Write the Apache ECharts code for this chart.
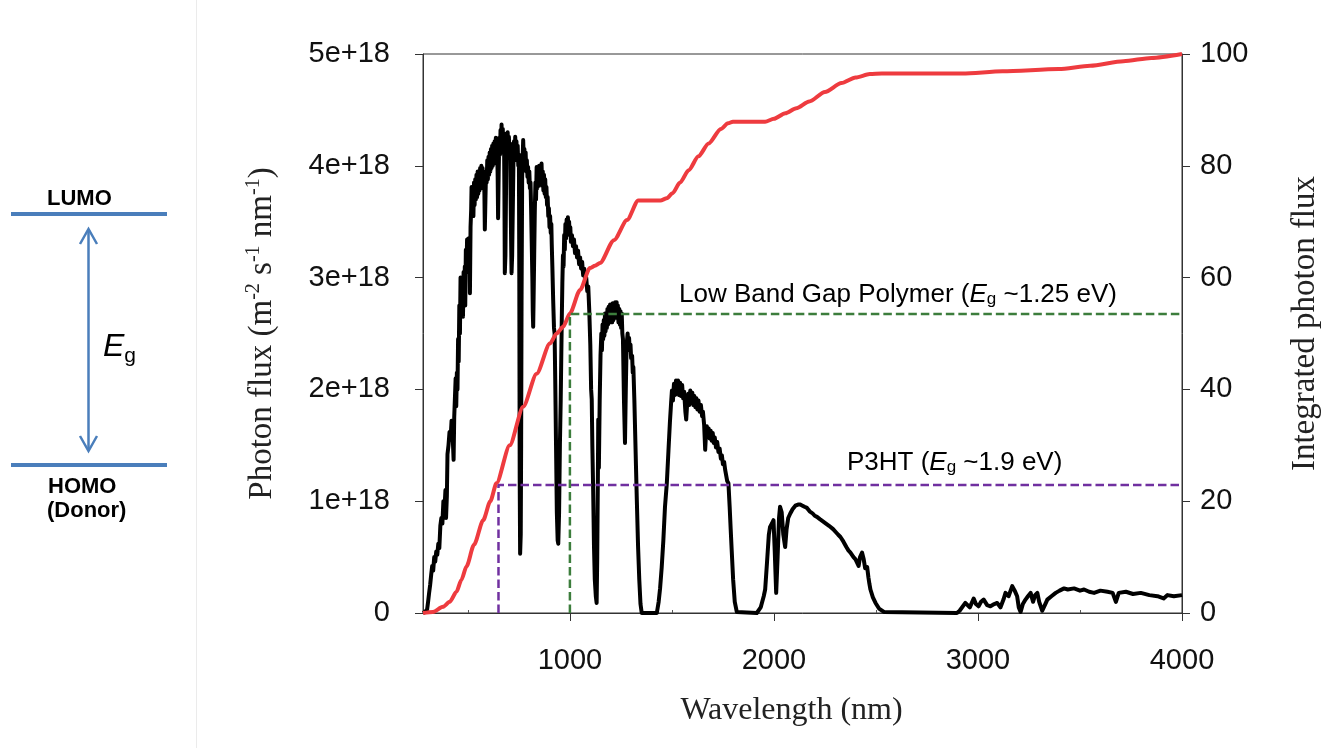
<!DOCTYPE html>
<html>
<head>
<meta charset="utf-8">
<script src="https://cdn.jsdelivr.net/npm/echarts@6/dist/echarts.min.js"></script>
<style>
html,body{margin:0;padding:0;background:#ffffff;}
#chart{width:1322px;height:748px;}
</style>
</head>
<body>
<div id="chart"></div>
<script>
// ---------- data ----------
const xTickValues = [1000, 2000, 3000, 4000];
const xMinorTickValues = [500, 1500, 2500, 3500];

const spectrumWavelength = [
280,290,300,305,310,315,320,325,330,335,340,345,350,355,360,365,370,375,380,385,390,393,397,400,405,410,415,420,425,430,433,438,
440,443,446,449,452,455,458,461,464,467,470,473,476,479,482,485,487,490,493,496,499,502,505,508,510,513,516,518,521,524,527,530,533,536,539,542,545,548,551,554,557,560,563,566,569,572,575,578,581,583,586,589,592,595,598,601,604,607,610,613,616,619,622,625,628,631,634,637,640,643,646,648,651,654,657,660,663,665,668,671,674,677,679,681,684,687,689,692,695,698,701,704,707,709,712,714,717,720,723,726,729,732,735,738,741,744,747,750,752,754,756,759,761,763,766,769,771,774,777,780,783,786,789,792,795,798,801,804,807,810,813,816,818,820,822,825,828,831,834,837,840,843,846,849,852,855,858,861,864,867,870,873,876,879,882,885,888,891,894,897,900,903,906,909,911,914,
918,922,925,928,932,936,940,943,947,951,955,
960,963,966,969,972,975,978,981,984,987,990,993,996,999,1002,1005,1010,1015,1020,1025,1030,1035,1040,1045,1050,1055,1060,1065,1070,1075,1080,1085,1090,
1095,1100,1104,1107,1110,1114,1118,1122,1127,1131,1134,1137,1139,1142,1146,
1150,1154,1157,1160,1163,1166,1169,1172,1175,1178,1181,1184,1187,1190,1193,1197,1200,1204,1207,1210,1213,1216,1219,1222,1225,1229,1232,1235,1238,1242,1245,1248,1251,1254,1257,1260,
1265,1270,1274,1278,1283,1286,1290,1293,1297,1300,1305,1308,1311,1316,1320,1324,1328,1334,1340,1346,1352,1426,1435,1442,1450,1458,1466,1475,1483,1490,1496,
1500,1505,1510,1515,1520,1525,1530,1535,1540,1545,1550,1555,1560,1566,1570,1574,1580,1585,1590,1595,1600,1605,1610,1615,1620,1625,1630,1636,1642,1648,1652,1658,1663,1667,1671,1676,1680,1685,1690,1695,1700,1705,1710,1716,1722,1728,1734,1740,1745,1750,1756,1761,1766,1771,1777,1783,1788,1793,1800,1808,1818,
1916,1935,1950,1957,1966,1975,1981,1990,1998,2004,2011,2018,2025,2030,2038,2046,2055,2062,2070,2080,2092,2105,2118,2129,2140,2150,2162,2175,2190,2200,2211,2225,2240,2255,2270,2277,2290,2305,2315,2326,2340,2355,2365,2375,2390,2400,2408,2415,2422,2432,2440,2447,2457,2463,2468,2473,2485,2498,2515,2539,
2897,2910,2938,2960,2979,2990,3003,3015,3028,3045,3061,3080,3094,3110,3125,3135,3150,3168,3180,3192,3200,3209,3220,3233,3245,3258,3270,3280,3291,3300,3315,3330,3340,3360,3381,3400,3422,3440,3471,3500,3520,3545,3569,3600,3635,3660,3676,3690,3725,3760,3798,3840,3880,3910,3929,3960,4000
];
// photon flux in units of 1e18 m^-2 s^-1 nm^-1
const spectrumFlux = [
0,0.01,0.03,0.10,0.18,0.25,0.34,0.42,0.38,0.50,0.46,0.55,0.52,0.62,0.58,0.78,0.85,0.80,1.00,0.92,1.10,0.85,1.05,1.42,1.50,1.62,1.55,1.72,1.60,1.37,1.75,2.00,
2.10,1.85,2.15,2.00,2.45,2.25,2.75,2.50,3.00,2.70,2.95,2.75,2.65,3.05,2.85,3.10,2.75,3.25,3.05,3.34,3.10,3.35,3.15,3.30,2.86,3.45,3.60,3.81,3.55,3.75,3.55,3.85,3.65,3.88,3.70,3.92,3.72,3.95,3.75,3.93,3.78,3.98,3.80,4.00,3.82,3.98,3.80,3.95,3.75,3.43,3.70,3.95,3.85,4.05,3.88,4.08,3.92,4.12,3.95,4.15,3.98,4.18,4.00,4.20,4.02,4.22,4.05,4.25,4.08,4.22,3.90,3.53,3.95,4.25,4.10,4.32,4.15,4.37,4.15,4.33,4.12,4.28,3.80,3.04,3.20,3.80,4.29,4.10,4.30,4.10,4.26,4.08,4.20,3.80,3.30,3.04,3.20,3.60,4.00,4.22,4.05,4.26,4.08,4.22,4.05,4.18,4.00,4.10,3.00,1.20,0.53,0.70,1.50,2.80,3.90,4.10,4.23,4.05,4.15,3.98,4.12,3.95,4.05,3.90,3.99,3.85,3.95,3.80,3.85,3.60,3.30,3.00,2.70,2.56,2.80,3.20,3.60,3.85,3.70,3.99,3.80,3.98,3.82,4.00,3.84,3.98,3.85,4.02,3.82,3.95,3.78,3.92,3.75,3.88,3.72,3.81,3.65,3.72,3.55,3.62,3.45,3.55,3.40,3.48,3.30,3.10,
2.80,2.55,2.50,2.10,1.50,0.90,0.65,0.62,0.90,1.50,1.91,
2.60,2.95,3.20,3.10,3.38,3.25,3.48,3.35,3.52,3.40,3.54,3.45,3.50,3.38,3.45,3.32,3.38,3.28,3.34,3.22,3.28,3.18,3.24,3.12,3.18,3.08,3.14,3.02,3.08,2.96,3.00,2.88,2.92,
2.70,2.40,2.00,1.91,1.50,1.10,0.60,0.30,0.15,0.09,0.50,1.20,1.73,1.30,1.90,
2.30,2.50,2.35,2.58,2.45,2.62,2.48,2.68,2.52,2.66,2.55,2.72,2.58,2.74,2.60,2.76,2.62,2.74,2.60,2.77,2.62,2.76,2.64,2.78,2.65,2.78,2.64,2.75,2.60,2.72,2.58,2.70,2.55,2.68,2.50,2.45,
1.90,1.52,2.00,2.40,2.50,2.38,2.46,2.35,2.40,2.28,2.30,2.15,2.20,1.90,1.60,1.30,1.01,0.60,0.30,0.08,0,0,0.10,0.22,0.41,0.65,0.95,1.16,1.45,1.70,1.88,
1.99,1.90,2.05,1.95,2.08,1.96,2.08,1.95,2.06,1.94,2.04,1.92,1.98,1.80,1.73,1.85,1.96,1.86,1.99,1.88,1.97,1.86,1.94,1.84,1.92,1.82,1.90,1.80,1.86,1.76,1.80,1.68,1.46,1.60,1.67,1.58,1.65,1.56,1.63,1.54,1.61,1.52,1.57,1.48,1.53,1.44,1.47,1.38,1.41,1.33,1.35,1.28,1.28,1.18,1.16,0.95,0.75,0.56,0.30,0.10,0.01,
0,0.05,0.15,0.21,0.45,0.70,0.77,0.80,0.83,0.55,0.18,0.50,0.85,0.95,0.90,0.70,0.59,0.75,0.85,0.89,0.93,0.96,0.97,0.97,0.96,0.95,0.94,0.91,0.89,0.87,0.86,0.84,0.82,0.80,0.78,0.77,0.75,0.72,0.70,0.68,0.64,0.59,0.56,0.54,0.50,0.48,0.47,0.42,0.50,0.54,0.48,0.40,0.41,0.32,0.26,0.21,0.14,0.09,0.04,0.01,
0,0.02,0.09,0.05,0.13,0.08,0.06,0.10,0.12,0.07,0.06,0.08,0.09,0.05,0.12,0.18,0.15,0.24,0.20,0.15,0.05,0.01,0.08,0.12,0.15,0.18,0.10,0.16,0.18,0.10,0.02,0.08,0.12,0.15,0.18,0.20,0.22,0.21,0.22,0.20,0.21,0.19,0.18,0.20,0.19,0.18,0.10,0.18,0.19,0.17,0.18,0.16,0.15,0.13,0.16,0.15,0.16
];

const integratedWavelength = [280,329,378,411,444,468,493,530,575,610,640,705,771,837,902,935,967,1000,1050,1098,1123,1147,1216,1280,1335,1444,1475,1503,1540,1582,1630,1680,1740,1775,1799,1957,2000,2056,2110,2173,2250,2331,2400,2470,2529,2924,3121,3396,3550,3713,3850,4000];
const integratedFlux = [0,0.2,1.1,2.0,3.8,5.9,8.3,12.2,16.6,20.0,23.2,30.0,36.9,42.8,48.2,50.0,51.2,53.6,57.8,61.7,62.1,62.6,66.7,70.3,73.8,73.8,74.2,75.1,77.0,79.2,81.7,84.0,86.6,87.6,87.9,87.9,88.4,89.4,90.3,91.5,93.2,94.8,95.8,96.4,96.5,96.5,96.9,97.3,97.9,98.7,99.3,100];

// band-gap cut-off guides (wavelength, integrated photon flux)
const p3htGuideX = [650, 650, 4000];
const p3htGuideY = [0, 22.9, 22.9];
const lbgGuideX = [1000, 1000, 4000];
const lbgGuideY = [0, 53.5, 53.5];

const leftTickLabels = ['0', '1e+18', '2e+18', '3e+18', '4e+18', '5e+18'];

// ---------- build ----------
const zip = (a, b) => a.map((v, i) => [v, b[i]]);

const SANS = '"Liberation Sans", Arial, sans-serif';
const SERIF = '"Liberation Serif", "Times New Roman", serif';
const BLUE = '#4A7EBB';

const chart = echarts.init(document.getElementById('chart'), null, {renderer: 'canvas'});

const option = {
  backgroundColor: '#ffffff',
  animation: false,
  grid: {left: 423, right: 140, top: 54, bottom: 135, containLabel: false, outerBoundsMode: 'none',
    show: true, borderColor: '#333', borderWidth: 1, backgroundColor: 'transparent'},
  xAxis: [{
    type: 'value', min: 280, max: 4000,
    name: 'Wavelength (nm)', nameLocation: 'middle', nameGap: 82,
    nameTextStyle: {fontFamily: SERIF, fontSize: 32, color: '#222', padding: [0, 22, 0, 0]},
    axisLine: {show: true, lineStyle: {color: '#333', width: 1}},
    axisTick: {show: true, customValues: xTickValues, length: 8, lineStyle: {color: '#333'}},
    axisLabel: {customValues: xTickValues, fontFamily: SANS, fontSize: 29, color: '#111', margin: 33,
      formatter: (v) => String(v)},
    splitLine: {show: false}
  }, {
    type: 'value', min: 280, max: 4000, position: 'bottom', gridIndex: 0,
    axisLine: {show: false},
    axisTick: {show: true, inside: true, customValues: xMinorTickValues, length: 3, lineStyle: {color: '#555'}},
    axisLabel: {show: false},
    splitLine: {show: false}
  }],
  yAxis: [{
    type: 'value', min: 0, max: 5, interval: 1, position: 'left',
    name: 'Photon flux (m{sup|-2} s{sup|-1} nm{sup|-1})',
    nameLocation: 'middle', nameRotate: 90, nameGap: 143,
    nameTextStyle: {fontFamily: SERIF, fontSize: 33, color: '#222',
      rich: {sup: {fontFamily: SERIF, fontSize: 20, color: '#222', verticalAlign: 'top', lineHeight: 36}}},
    axisLine: {show: true, lineStyle: {color: '#333', width: 1}},
    axisTick: {show: true, length: 8, lineStyle: {color: '#333'}},
    axisLabel: {fontFamily: SANS, fontSize: 29, color: '#111', margin: 33,
      formatter: (v) => leftTickLabels[Math.round(v)]},
    splitLine: {show: false}
  }, {
    type: 'value', min: 0, max: 100, interval: 20, position: 'right',
    name: 'Integrated photon flux',
    nameLocation: 'middle', nameRotate: 90, nameGap: 107,
    nameTextStyle: {fontFamily: SERIF, fontSize: 33, color: '#222', padding: [0, 0, 0, 20]},
    axisLine: {show: true, lineStyle: {color: '#333', width: 1}},
    axisTick: {show: true, length: 8, lineStyle: {color: '#333'}},
    axisLabel: {fontFamily: SANS, fontSize: 29, color: '#111', margin: 18},
    splitLine: {show: false}
  }],
  series: [{
    name: 'Photon flux', type: 'line', xAxisIndex: 0, yAxisIndex: 0,
    data: zip(spectrumWavelength, spectrumFlux),
    showSymbol: false, symbol: 'none',
    lineStyle: {color: '#000', width: 4, join: 'round'},
    z: 2
  }, {
    name: 'Integrated photon flux', type: 'line', xAxisIndex: 0, yAxisIndex: 1,
    data: zip(integratedWavelength, integratedFlux),
    showSymbol: false, symbol: 'none', smooth: 0.25, smoothMonotone: 'x',
    lineStyle: {color: '#EE3B3F', width: 4},
    z: 3
  }, {
    name: 'P3HT', type: 'line', xAxisIndex: 0, yAxisIndex: 1,
    data: zip(p3htGuideX, p3htGuideY),
    showSymbol: false, symbol: 'none',
    lineStyle: {color: '#7030A0', width: 2.5, type: [8.5, 4]},
    z: 4
  }, {
    name: 'Low band gap polymer', type: 'line', xAxisIndex: 0, yAxisIndex: 1,
    data: zip(lbgGuideX, lbgGuideY),
    showSymbol: false, symbol: 'none',
    lineStyle: {color: '#3C7D3C', width: 2.5, type: [8.5, 4]},
    z: 4
  }],
  graphic: [
    // separator
    {type: 'line', shape: {x1: 196.5, y1: 0, x2: 196.5, y2: 748}, style: {stroke: '#ebebeb', lineWidth: 1}, z: 1},
    // energy level diagram
    {type: 'line', shape: {x1: 11, y1: 214, x2: 167, y2: 214}, style: {stroke: BLUE, lineWidth: 4}},
    {type: 'line', shape: {x1: 11, y1: 465, x2: 167, y2: 465}, style: {stroke: BLUE, lineWidth: 4}},
    {type: 'line', shape: {x1: 88.5, y1: 229, x2: 88.5, y2: 451}, style: {stroke: BLUE, lineWidth: 2.5}},
    {type: 'polyline', shape: {points: [[80, 244], [88.5, 229], [97, 244]]}, style: {stroke: BLUE, lineWidth: 2.5, fill: null}},
    {type: 'polyline', shape: {points: [[80, 436], [88.5, 451], [97, 436]]}, style: {stroke: BLUE, lineWidth: 2.5, fill: null}},
    {type: 'text', style: {text: 'LUMO', x: 47, y: 199, fontFamily: SANS, fontWeight: 'bold', fontSize: 22, fill: '#000', verticalAlign: 'middle'}},
    {type: 'text', style: {text: 'HOMO', x: 48, y: 487, fontFamily: SANS, fontWeight: 'bold', fontSize: 22, fill: '#000', verticalAlign: 'middle'}},
    {type: 'text', style: {text: '(Donor)', x: 47, y: 511, fontFamily: SANS, fontWeight: 'bold', fontSize: 22, fill: '#000', verticalAlign: 'middle'}},
    {type: 'text', style: {text: '{e|E}{g|g}', x: 103, y: 347, verticalAlign: 'middle',
      rich: {e: {fontFamily: SANS, fontStyle: 'italic', fontSize: 32, fill: '#000', lineHeight: 40},
             g: {fontFamily: SANS, fontSize: 21, fill: '#000', verticalAlign: 'bottom', lineHeight: 28}}}},
    // annotations
    {type: 'text', style: {text: 'Low Band Gap Polymer ({e|E}{g|g} ~1.25 eV)', x: 679, y: 295, verticalAlign: 'middle',
      fontFamily: SANS, fontSize: 26, fill: '#000',
      rich: {e: {fontFamily: SANS, fontStyle: 'italic', fontSize: 26, fill: '#000'},
             g: {fontFamily: SANS, fontSize: 17, fill: '#000', verticalAlign: 'bottom', lineHeight: 22}}}},
    {type: 'text', style: {text: 'P3HT ({e|E}{g|g} ~1.9 eV)', x: 847, y: 463, verticalAlign: 'middle',
      fontFamily: SANS, fontSize: 26, fill: '#000',
      rich: {e: {fontFamily: SANS, fontStyle: 'italic', fontSize: 26, fill: '#000'},
             g: {fontFamily: SANS, fontSize: 17, fill: '#000', verticalAlign: 'bottom', lineHeight: 22}}}}
  ]
};
chart.setOption(option);
</script>
</body>
</html>
